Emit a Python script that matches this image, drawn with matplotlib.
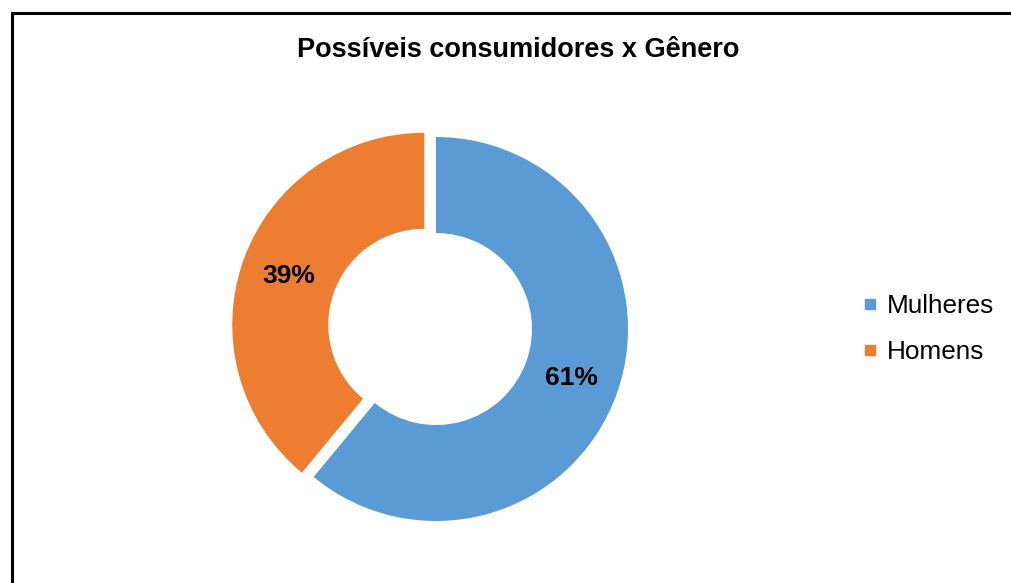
import matplotlib.pyplot as plt
from matplotlib.lines import Line2D
from matplotlib.patches import Rectangle

plt.rcParams["font.family"] = ["Liberation Sans", "DejaVu Sans"]

labels = ["Mulheres", "Homens"]
shares = [61, 39]
colors = ["#5B9BD5", "#ED7D31"]
explode = [0.0, 0.065]
title = "Possíveis consumidores x Gênero"

W, H, DPI = 1011, 583, 100
fig = plt.figure(figsize=(W / DPI, H / DPI), dpi=DPI)

# pie centre and radius in pixels, axes sized so that data radius 1 == R px
cx, cy, R = 436, 329, 192
span = 1.2
w = 2 * span * R
ax = fig.add_axes([(cx - w / 2) / W, (H - cy - w / 2) / H, w / W, w / H])

wedges, texts, autotexts = ax.pie(
    shares,
    colors=colors,
    explode=explode,
    startangle=90,
    counterclock=False,
    wedgeprops=dict(width=0.5, linewidth=0),
    autopct="%d%%",
    pctdistance=0.75,
    textprops=dict(fontsize=19, fontweight="bold", color="black"),
)
ax.set_xlim(-span, span)
ax.set_ylim(-span, span)
ax.set_aspect("equal")
ax.set_axis_off()

fig.text(518 / W, 1 - 50 / H, title, ha="center", va="center",
         fontsize=19.5, fontweight="bold")

handles = [
    Line2D([], [], marker="s", linestyle="", markersize=6.5, color=c)
    for c in colors
]
fig.legend(handles, labels, loc="center left",
           bbox_to_anchor=(850 / W, 1 - 329 / H),
           frameon=False, fontsize=18.8, handlelength=0.5,
           handletextpad=0.4, labelspacing=0.85, borderpad=0)

# chart frame, only its top and left edges fall inside the image
frame = Rectangle((11.5 / W, -0.5), 1.5, 1.5 - 12.5 / H,
                  transform=fig.transFigure, fill=False,
                  edgecolor="black", linewidth=2.2)
fig.add_artist(frame)

fig.savefig("out.png", dpi=DPI, facecolor="white")
